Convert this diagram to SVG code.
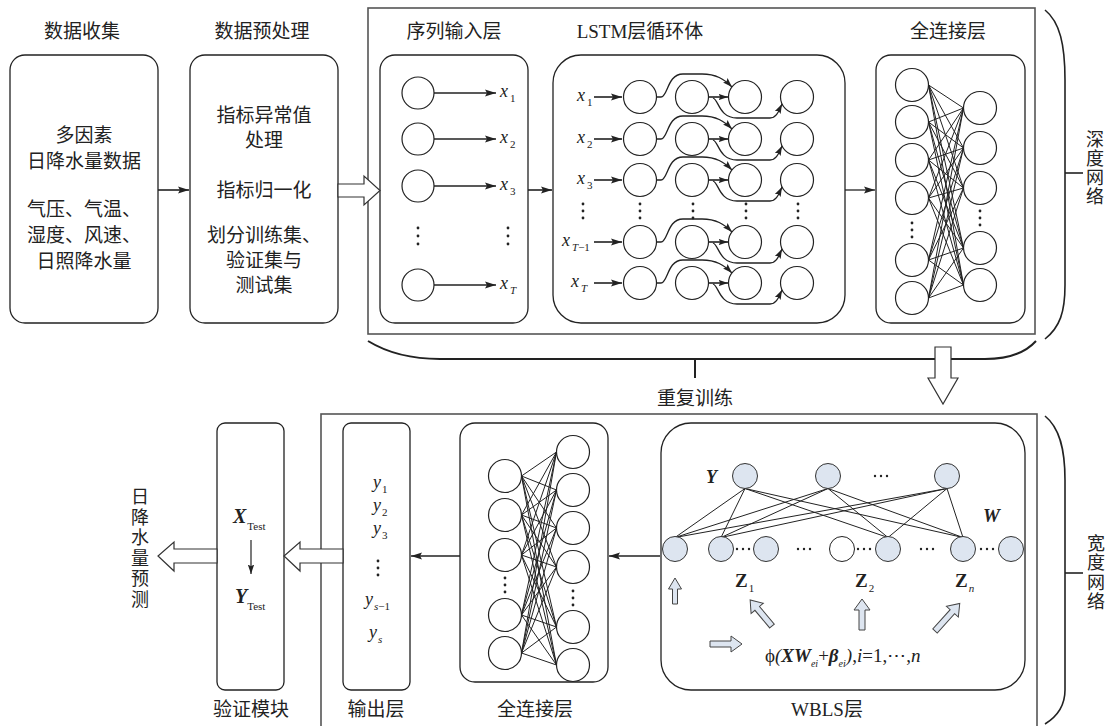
<svg xmlns="http://www.w3.org/2000/svg" width="1111" height="726" viewBox="0 0 1111 726">
<defs>
<style>
.bx{fill:none;stroke:#222;stroke-width:1.3}
.ob{fill:none;stroke:#555;stroke-width:1.6}
.c{fill:#fff;stroke:#222;stroke-width:1.2}
.cb{fill:#dde5f0;stroke:#333;stroke-width:1}
.ln{fill:none;stroke:#222;stroke-width:1}
.ar{fill:none;stroke:#222;stroke-width:1.6}
.cv{fill:none;stroke:#222;stroke-width:1.3}
.br{fill:none;stroke:#222;stroke-width:1.6}
.ha{fill:#fff;stroke:#333;stroke-width:1.2}
.hb{fill:#dde5f0;stroke:#444;stroke-width:1}
.d{fill:#222}
.t{font-family:"Noto Sans CJK SC","Noto Sans CJK JP",sans-serif;font-size:19px;fill:#222;text-anchor:middle}
.v{font-family:"Noto Sans CJK SC","Noto Sans CJK JP",sans-serif;font-size:18px;fill:#222;text-anchor:middle;writing-mode:vertical-rl}
.mi{font-family:"Liberation Serif",serif;font-style:italic;font-size:18px;fill:#222}
.sb{font-size:11px;font-style:normal}
.si{font-size:11px;font-style:italic}
.bi{font-family:"Liberation Serif",serif;font-style:italic;font-weight:bold;fill:#222}
.bz{font-family:"Liberation Serif",serif;font-weight:bold;font-size:19px;fill:#222}
</style>
<marker id="ah" markerUnits="userSpaceOnUse" markerWidth="12" markerHeight="8" refX="11" refY="4" orient="auto"><path d="M0,0.5 L11,4 L0,7.5 L2,4 z" fill="#222"/></marker>
<marker id="as" markerUnits="userSpaceOnUse" markerWidth="10" markerHeight="8" refX="9.5" refY="4" orient="auto"><path d="M0,0.8 L9.5,4 L0,7.2 L1.8,4 z" fill="#222"/></marker>
</defs>

<!-- outer frames and braces -->
<g id="frames">
<rect class="ob" x="368" y="8" width="667" height="326"/>
<rect class="ob" x="321" y="414" width="716" height="330"/>
<path class="br" d="M1045,10 C1060,22 1065,45 1065,80 L1065,285 C1065,312 1060,327 1045,339"/>
<line class="br" x1="1065" y1="173" x2="1083" y2="173"/>
<path class="br" d="M1045,416 C1060,428 1065,450 1065,480 L1065,690 C1065,705 1058,716 1045,724"/>
<line class="br" x1="1065" y1="573" x2="1083" y2="573"/>
<path class="br" style="stroke-width:2" d="M368,341 C386,352 410,359 440,359 L985,359 C1010,359 1026,352 1036,341"/>
<line class="br" style="stroke-width:2" x1="695" y1="359" x2="695" y2="378"/>
<text class="t" x="695" y="405">重复训练</text>
<text class="v" x="1095" y="168" letter-spacing="1">深度网络</text>
<text class="v" x="1096" y="573" letter-spacing="1.5">宽度网络</text>
</g>

<!-- data collection -->
<g id="n-collect">
<text class="t" x="82" y="38">数据收集</text>
<rect class="bx" x="10" y="55" width="148" height="268" rx="15"/>
<text class="t" x="84" y="142">多因素</text>
<text class="t" x="84" y="168">日降水量数据</text>
<text class="t" x="84" y="216">气压、气温、</text>
<text class="t" x="84" y="242">湿度、风速、</text>
<text class="t" x="84" y="268">日照降水量</text>
</g>

<!-- preprocessing -->
<g id="n-preprocess">
<text class="t" x="262" y="38">数据预处理</text>
<rect class="bx" x="190" y="55" width="148" height="268" rx="15"/>
<text class="t" x="264" y="122">指标异常值</text>
<text class="t" x="264" y="147">处理</text>
<text class="t" x="264" y="197">指标归一化</text>
<text class="t" x="264" y="242">划分训练集、</text>
<text class="t" x="264" y="267">验证集与</text>
<text class="t" x="264" y="292">测试集</text>
</g>

<!-- sequence input layer -->
<g id="n-input">
<text class="t" x="454" y="38">序列输入层</text>
<rect class="bx" x="380" y="55" width="148" height="268" rx="15"/>
<circle class="c" cx="418" cy="93" r="16"/>
<circle class="c" cx="418" cy="139" r="16"/>
<circle class="c" cx="418" cy="186" r="16"/>
<circle class="c" cx="418" cy="285" r="16"/>
<line class="ar" x1="434" y1="93" x2="496" y2="93" marker-end="url(#ah)"/>
<line class="ar" x1="434" y1="139" x2="496" y2="139" marker-end="url(#ah)"/>
<line class="ar" x1="434" y1="186" x2="496" y2="186" marker-end="url(#ah)"/>
<line class="ar" x1="434" y1="285" x2="496" y2="285" marker-end="url(#ah)"/>
<text class="mi" x="500" y="97">x<tspan class="sb" dx="2" dy="5">1</tspan></text>
<text class="mi" x="500" y="143">x<tspan class="sb" dx="2" dy="5">2</tspan></text>
<text class="mi" x="500" y="190">x<tspan class="sb" dx="2" dy="5">3</tspan></text>
<text class="mi" x="500" y="289">x<tspan class="si" dx="2" dy="5">T</tspan></text>
<circle class="d" cx="418" cy="228" r="1.4"/><circle class="d" cx="418" cy="236" r="1.4"/><circle class="d" cx="418" cy="244" r="1.4"/>
<circle class="d" cx="508" cy="228" r="1.4"/><circle class="d" cx="508" cy="236" r="1.4"/><circle class="d" cx="508" cy="244" r="1.4"/>
</g>

<!-- LSTM -->
<g id="n-lstm">
<text x="640" y="38" class="t"><tspan style="font-family:'Liberation Serif',serif">LSTM</tspan>层循环体</text>
<rect class="bx" x="553" y="55" width="292" height="268" rx="28"/>
<text class="mi" x="577" y="101">x<tspan class="sb" dx="2" dy="5">1</tspan></text>
<text class="mi" x="577" y="143">x<tspan class="sb" dx="2" dy="5">2</tspan></text>
<text class="mi" x="577" y="184">x<tspan class="sb" dx="2" dy="5">3</tspan></text>
<text class="mi" x="562" y="246">x<tspan class="si" dx="2" dy="5">T</tspan><tspan class="sb">−1</tspan></text>
<text class="mi" x="571" y="287">x<tspan class="si" dx="2" dy="5">T</tspan></text>
<g>
<circle class="c" cx="640" cy="97" r="16.5"/><circle class="c" cx="692" cy="97" r="16.5"/><circle class="c" cx="745" cy="97" r="16.5"/><circle class="c" cx="797" cy="97" r="16.5"/>
<circle class="c" cx="640" cy="139" r="16.5"/><circle class="c" cx="692" cy="139" r="16.5"/><circle class="c" cx="745" cy="139" r="16.5"/><circle class="c" cx="797" cy="139" r="16.5"/>
<circle class="c" cx="640" cy="180" r="16.5"/><circle class="c" cx="692" cy="180" r="16.5"/><circle class="c" cx="745" cy="180" r="16.5"/><circle class="c" cx="797" cy="180" r="16.5"/>
<circle class="c" cx="640" cy="242" r="16.5"/><circle class="c" cx="692" cy="242" r="16.5"/><circle class="c" cx="745" cy="242" r="16.5"/><circle class="c" cx="797" cy="242" r="16.5"/>
<circle class="c" cx="640" cy="283" r="16.5"/><circle class="c" cx="692" cy="283" r="16.5"/><circle class="c" cx="745" cy="283" r="16.5"/><circle class="c" cx="797" cy="283" r="16.5"/>
</g>
<g>
<circle class="d" cx="583" cy="204" r="1.4"/><circle class="d" cx="583" cy="211" r="1.4"/><circle class="d" cx="583" cy="218" r="1.4"/>
<circle class="d" cx="640" cy="204" r="1.4"/><circle class="d" cx="640" cy="211" r="1.4"/><circle class="d" cx="640" cy="218" r="1.4"/>
<circle class="d" cx="693" cy="204" r="1.4"/><circle class="d" cx="693" cy="211" r="1.4"/><circle class="d" cx="693" cy="218" r="1.4"/>
<circle class="d" cx="746" cy="204" r="1.4"/><circle class="d" cx="746" cy="211" r="1.4"/><circle class="d" cx="746" cy="218" r="1.4"/>
<circle class="d" cx="798" cy="204" r="1.4"/><circle class="d" cx="798" cy="211" r="1.4"/><circle class="d" cx="798" cy="218" r="1.4"/>
</g>
</g>

<!-- fully connected (deep) -->
<g id="n-fc-deep">
<text class="t" x="948" y="38">全连接层</text>
<rect class="bx" x="876" y="55" width="149" height="268" rx="15"/>
<path class="ln" d="M928.5,85L963.5,108M928.5,85L963.5,148M928.5,85L963.5,188M928.5,85L963.5,248M928.5,85L963.5,285M928.5,122L963.5,108M928.5,122L963.5,148M928.5,122L963.5,188M928.5,122L963.5,248M928.5,122L963.5,285M928.5,160L963.5,108M928.5,160L963.5,148M928.5,160L963.5,188M928.5,160L963.5,248M928.5,160L963.5,285M928.5,198L963.5,108M928.5,198L963.5,148M928.5,198L963.5,188M928.5,198L963.5,248M928.5,198L963.5,285M928.5,260L963.5,108M928.5,260L963.5,148M928.5,260L963.5,188M928.5,260L963.5,248M928.5,260L963.5,285M928.5,298L963.5,108M928.5,298L963.5,148M928.5,298L963.5,188M928.5,298L963.5,248M928.5,298L963.5,285"/>
<circle class="c" cx="912" cy="85" r="16.5"/><circle class="c" cx="912" cy="122" r="16.5"/><circle class="c" cx="912" cy="160" r="16.5"/><circle class="c" cx="912" cy="198" r="16.5"/><circle class="c" cx="912" cy="260" r="16.5"/><circle class="c" cx="912" cy="298" r="16.5"/>
<circle class="c" cx="980" cy="108" r="16.5"/><circle class="c" cx="980" cy="148" r="16.5"/><circle class="c" cx="980" cy="188" r="16.5"/><circle class="c" cx="980" cy="248" r="16.5"/><circle class="c" cx="980" cy="285" r="16.5"/>
<circle class="d" cx="912" cy="223" r="1.4"/><circle class="d" cx="912" cy="230" r="1.4"/><circle class="d" cx="912" cy="237" r="1.4"/>
<circle class="d" cx="980" cy="211" r="1.4"/><circle class="d" cx="980" cy="218" r="1.4"/><circle class="d" cx="980" cy="225" r="1.4"/>
</g>

<!-- verification module -->
<g id="n-verify">
<rect class="bx" x="217" y="423" width="67" height="267" rx="8"/>
<text class="t" x="251" y="716">验证模块</text>
<text class="bi" x="233" y="523" font-size="20">X<tspan font-size="11" font-weight="normal" font-style="normal" dx="1" dy="7">Test</tspan></text>
<text class="bi" x="235" y="603" font-size="20">Y<tspan font-size="11" font-weight="normal" font-style="normal" dx="0" dy="7">Test</tspan></text>
<line x1="251" y1="540" x2="251" y2="574" stroke="#222" stroke-width="1.2" marker-end="url(#as)"/>
</g>

<!-- prediction output text -->
<g id="n-predict">
<text class="v" x="140" y="549" letter-spacing="2.5">日降水量预测</text>
</g>

<!-- output layer -->
<g id="n-output">
<rect class="bx" x="343" y="423" width="67" height="267" rx="8"/>
<text class="t" x="376" y="716">输出层</text>
<text class="mi" x="373" y="488">y<tspan class="sb" dx="1" dy="5">1</tspan></text>
<text class="mi" x="373" y="511">y<tspan class="sb" dx="1" dy="5">2</tspan></text>
<text class="mi" x="373" y="534">y<tspan class="sb" dx="1" dy="5">3</tspan></text>
<circle class="d" cx="378" cy="561" r="1.4"/><circle class="d" cx="378" cy="568" r="1.4"/><circle class="d" cx="378" cy="575" r="1.4"/>
<text class="mi" x="365" y="605">y<tspan class="si" dx="1" dy="5">s</tspan><tspan class="sb">−1</tspan></text>
<text class="mi" x="369" y="638">y<tspan class="si" dx="1" dy="5">s</tspan></text>
</g>

<!-- fully connected (wide) -->
<g id="n-fc-wide">
<rect class="bx" x="460" y="423" width="148" height="259" rx="15"/>
<text class="t" x="535" y="716">全连接层</text>
<path class="ln" d="M521.5,476L556.5,452M521.5,476L556.5,490M521.5,476L556.5,528M521.5,476L556.5,567M521.5,476L556.5,627M521.5,476L556.5,665M521.5,515L556.5,452M521.5,515L556.5,490M521.5,515L556.5,528M521.5,515L556.5,567M521.5,515L556.5,627M521.5,515L556.5,665M521.5,555L556.5,452M521.5,555L556.5,490M521.5,555L556.5,528M521.5,555L556.5,567M521.5,555L556.5,627M521.5,555L556.5,665M521.5,615L556.5,452M521.5,615L556.5,490M521.5,615L556.5,528M521.5,615L556.5,567M521.5,615L556.5,627M521.5,615L556.5,665M521.5,653L556.5,452M521.5,653L556.5,490M521.5,653L556.5,528M521.5,653L556.5,567M521.5,653L556.5,627M521.5,653L556.5,665"/>
<circle class="c" cx="505" cy="476" r="16.5"/><circle class="c" cx="505" cy="515" r="16.5"/><circle class="c" cx="505" cy="555" r="16.5"/><circle class="c" cx="505" cy="615" r="16.5"/><circle class="c" cx="505" cy="653" r="16.5"/>
<circle class="c" cx="573" cy="452" r="16.5"/><circle class="c" cx="573" cy="490" r="16.5"/><circle class="c" cx="573" cy="528" r="16.5"/><circle class="c" cx="573" cy="567" r="16.5"/><circle class="c" cx="573" cy="627" r="16.5"/><circle class="c" cx="573" cy="665" r="16.5"/>
<circle class="d" cx="505" cy="578" r="1.4"/><circle class="d" cx="505" cy="585" r="1.4"/><circle class="d" cx="505" cy="592" r="1.4"/>
<circle class="d" cx="573" cy="591" r="1.4"/><circle class="d" cx="573" cy="598" r="1.4"/><circle class="d" cx="573" cy="605" r="1.4"/>
</g>

<!-- WBLS layer -->
<g id="n-wbls">
<rect class="bx" x="661" y="423" width="364" height="267" rx="30"/>
<text x="827" y="716" class="t"><tspan style="font-family:'Liberation Serif',serif">WBLS</tspan>层</text>
<path class="ln" d="M745,488.5L675,537.5M745,488.5L721,537.5M745,488.5L888,537.5M745,488.5L963,537.5M828,488.5L675,537.5M828,488.5L721,537.5M828,488.5L888,537.5M828,488.5L963,537.5M947,488.5L675,537.5M947,488.5L721,537.5M947,488.5L888,537.5M947,488.5L963,537.5"/>
<circle class="cb" cx="745" cy="476" r="12.5"/><circle class="cb" cx="828" cy="476" r="12.5"/><circle class="cb" cx="947" cy="476" r="12.5"/>
<circle class="cb" cx="675" cy="549" r="12.5"/><circle class="cb" cx="721" cy="549" r="12.5"/><circle class="cb" cx="766" cy="549" r="12.5"/>
<circle class="c" cx="842" cy="549" r="12.5" style="stroke-width:1"/>
<circle class="cb" cx="888" cy="549" r="12.5"/><circle class="cb" cx="963" cy="549" r="12.5"/><circle class="cb" cx="1011" cy="549" r="12.5"/>
<g>
<circle class="d" cx="875" cy="476" r="1.2"/><circle class="d" cx="881" cy="476" r="1.2"/><circle class="d" cx="887" cy="476" r="1.2"/>
<circle class="d" cx="737" cy="549" r="1.2"/><circle class="d" cx="743" cy="549" r="1.2"/><circle class="d" cx="749" cy="549" r="1.2"/>
<circle class="d" cx="798" cy="549" r="1.2"/><circle class="d" cx="804" cy="549" r="1.2"/><circle class="d" cx="810" cy="549" r="1.2"/>
<circle class="d" cx="858" cy="549" r="1.2"/><circle class="d" cx="864" cy="549" r="1.2"/><circle class="d" cx="870" cy="549" r="1.2"/>
<circle class="d" cx="921" cy="549" r="1.2"/><circle class="d" cx="927" cy="549" r="1.2"/><circle class="d" cx="933" cy="549" r="1.2"/>
<circle class="d" cx="981" cy="549" r="1.2"/><circle class="d" cx="987" cy="549" r="1.2"/><circle class="d" cx="993" cy="549" r="1.2"/>
</g>
<text class="bi" x="706" y="483" font-size="18">Y</text>
<text class="bi" x="983" y="522" font-size="19">W</text>
<text class="bz" x="735" y="587">Z<tspan font-size="11" font-weight="normal" dx="1" dy="5">1</tspan></text>
<text class="bz" x="855" y="587">Z<tspan font-size="11" font-weight="normal" dx="1" dy="5">2</tspan></text>
<text class="bz" x="955" y="587">Z<tspan font-size="11" font-weight="normal" font-style="italic" dx="1" dy="5">n</tspan></text>
<polygon class="hb" points="672.5,604 677.5,604 677.5,589 681.5,589 675,578 668.5,589 672.5,589"/>
<polygon class="hb" transform="translate(772,626) rotate(-40)" points="-3,0 3,0 3,-23 8,-23 0,-34 -8,-23 -3,-23"/>
<polygon class="hb" points="859,630 865,630 865,610 870,610 862,599 854,610 859,610"/>
<polygon class="hb" transform="translate(935,631) rotate(42)" points="-3,0 3,0 3,-26 8,-26 0,-37 -8,-26 -3,-26"/>
<polygon class="hb" transform="translate(710,644) rotate(90)" points="-3,0 3,0 3,-21 8,-21 0,-32 -8,-21 -3,-21"/>
<text x="765" y="662" style="font-family:'Liberation Serif',serif;font-size:19px;fill:#222">ϕ<tspan font-style="italic">(</tspan><tspan font-style="italic" font-weight="bold">XW</tspan><tspan font-style="italic" font-size="10" dy="5">ei</tspan><tspan dy="-5">+</tspan><tspan font-style="italic" font-weight="bold">β</tspan><tspan font-style="italic" font-size="10" dy="5">ei</tspan><tspan font-style="italic" dy="-5">)</tspan>,<tspan font-style="italic">i</tspan>=1,⋯,<tspan font-style="italic">n</tspan></text>
</g>

<!-- connectors -->
<g id="connectors">
<line class="ar" x1="158" y1="190" x2="189" y2="190" marker-end="url(#ah)"/>
<polygon class="ha" points="338,184 364,184 364,176 380,190.5 364,205 364,197 338,197"/>
<line class="ar" x1="528" y1="190" x2="552" y2="190" marker-end="url(#ah)"/>
<line class="ar" style="stroke-width:1.3" x1="845" y1="190" x2="875" y2="190" marker-end="url(#ah)"/>
<polygon class="ha" points="935,347 951,347 951,378 958,378 943,404 928,378 935,378"/>
<line class="ar" x1="660" y1="556" x2="609" y2="556" marker-end="url(#ah)"/>
<line class="ar" x1="460" y1="556" x2="411" y2="556" marker-end="url(#ah)"/>
<polygon class="ha" points="343,549 300,549 300,542 284,556 300,571 300,563 343,563"/>
<polygon class="ha" points="217,549 174,549 174,542 158,556 174,571 174,563 217,563"/>
<g>
<line class="ar" x1="594" y1="97" x2="622" y2="97" marker-end="url(#ah)"/>
<line class="ar" x1="594" y1="139" x2="622" y2="139" marker-end="url(#ah)"/>
<line class="ar" x1="594" y1="180" x2="622" y2="180" marker-end="url(#ah)"/>
<line class="ar" x1="594" y1="242" x2="622" y2="242" marker-end="url(#ah)"/>
<line class="ar" x1="594" y1="283" x2="622" y2="283" marker-end="url(#ah)"/>
</g>
<g>
<path class="cv" d="M656.5,97 L661,97 C668,97 667,74 683,74 L702,74 C716,74 724,79 732,87" marker-end="url(#as)"/>
<path class="cv" d="M656.5,139 L661,139 C668,139 667,116 683,116 L702,116 C716,116 724,121 732,129" marker-end="url(#as)"/>
<path class="cv" d="M656.5,180 L661,180 C668,180 667,157 683,157 L702,157 C716,157 724,162 732,170" marker-end="url(#as)"/>
<path class="cv" d="M656.5,242 L661,242 C668,242 667,219 683,219 L702,219 C716,219 724,224 732,232" marker-end="url(#as)"/>
<path class="cv" d="M656.5,283 L661,283 C668,283 667,260 683,260 L702,260 C716,260 724,265 732,273" marker-end="url(#as)"/>
</g>
<g>
<line class="ar" x1="708.5" y1="97" x2="728" y2="97" marker-end="url(#as)"/>
<line class="ar" x1="708.5" y1="139" x2="728" y2="139" marker-end="url(#as)"/>
<line class="ar" x1="708.5" y1="180" x2="728" y2="180" marker-end="url(#as)"/>
<line class="ar" x1="708.5" y1="242" x2="728" y2="242" marker-end="url(#as)"/>
<line class="ar" x1="708.5" y1="283" x2="728" y2="283" marker-end="url(#as)"/>
</g>
<g>
<path class="cv" d="M713,98 C719,100 719,118 737,118 L770,118 C777,118 779,110 782,104" marker-end="url(#as)"/>
<path class="cv" d="M713,140 C719,142 719,160 737,160 L770,160 C777,160 779,152 782,146" marker-end="url(#as)"/>
<path class="cv" d="M713,181 C719,183 719,201 737,201 L770,201 C777,201 779,193 782,187" marker-end="url(#as)"/>
<path class="cv" d="M713,243 C719,245 719,263 737,263 L770,263 C777,263 779,255 782,249" marker-end="url(#as)"/>
<path class="cv" d="M713,284 C719,286 719,304 737,304 L770,304 C777,304 779,296 782,290" marker-end="url(#as)"/>
</g>
</g>
</svg>
